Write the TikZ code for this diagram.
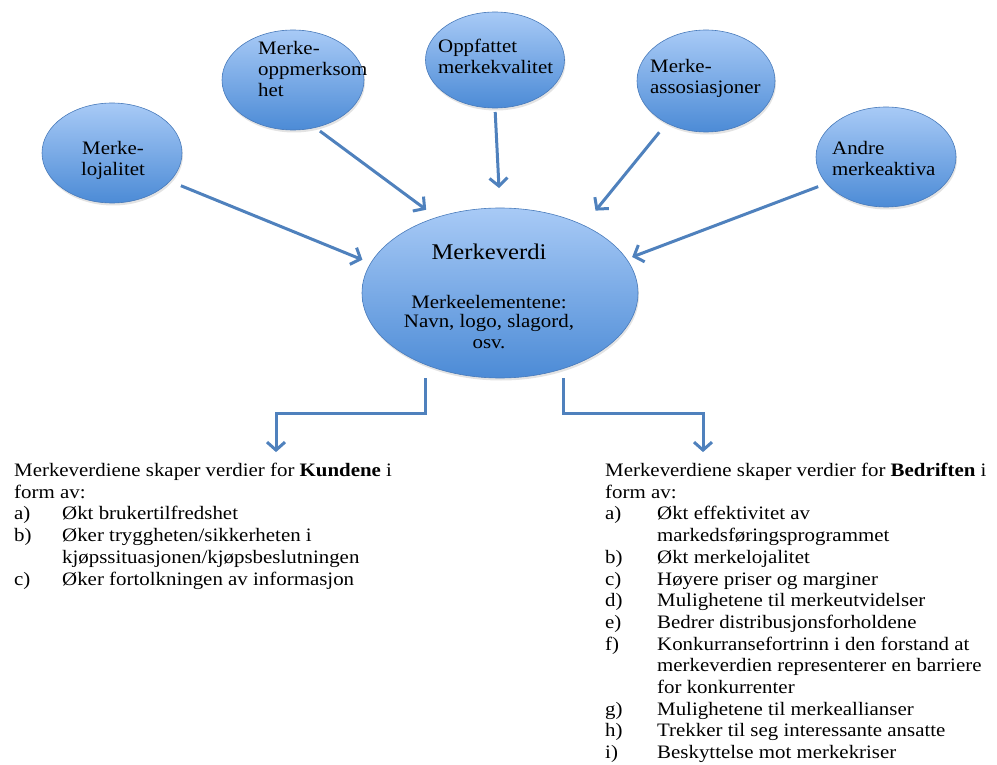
\documentclass[tikz,border=0pt]{standalone}
\usepackage{fontspec}
\setmainfont{Liberation Serif}[FakeStretch=1.1]
\usetikzlibrary{arrows.meta,shapes.geometric,shadows}
\definecolor{arrblue}{RGB}{79,129,189}
\definecolor{elltop}{RGB}{168,202,246}
\definecolor{ellbot}{RGB}{76,139,214}
\definecolor{ellline}{RGB}{72,122,186}
\begin{document}
\begin{tikzpicture}[x=1pt,y=-1pt,
  ell/.style={ellipse, draw=ellline, line width=0.6pt, top color=elltop, bottom color=ellbot,
    inner sep=0pt, outer sep=0pt,
    drop shadow={opacity=0.22, shadow xshift=1pt, shadow yshift=-2.5pt}},
  arr/.style={draw=arrblue, line width=3pt, -{Straight Barb[length=8pt,width=18pt]}},
  etext/.style={inner sep=0pt, font=\fontsize{19}{21}\selectfont},
  ltext/.style={inner sep=0pt, anchor=base west, font=\fontsize{19}{21.7}\selectfont}
]
\useasboundingbox (0,0) rectangle (997,765);

% ellipses
\node[ell, minimum width=140pt, minimum height=100pt] (loj) at (112,153) {};
\node[ell, minimum width=142pt, minimum height=100pt] (opp) at (293,80) {};
\node[ell, minimum width=139pt, minimum height=96pt] (oq) at (495,60) {};
\node[ell, minimum width=138pt, minimum height=102pt] (ass) at (706,81) {};
\node[ell, minimum width=140pt, minimum height=100pt] (andre) at (886,157) {};
\node[ell, minimum width=276pt, minimum height=170pt] (mv) at (500,293) {};

% ellipse texts
\node[etext, anchor=base] (lojt) at (113,155) {\begin{tabular}[t]{@{}c@{}}Merke-\\lojalitet\end{tabular}};
\node[etext, anchor=base west] (oppt) at (258,55) {\begin{tabular}[t]{@{}l@{}}Merke-\\oppmerksom\\het\end{tabular}};
\node[etext, anchor=base west] (oqt) at (438,53) {\begin{tabular}[t]{@{}l@{}}Oppfattet\\merkekvalitet\end{tabular}};
\node[etext, anchor=base west] (asst) at (650,73) {\begin{tabular}[t]{@{}l@{}}Merke-\\assosiasjoner\end{tabular}};
\node[etext, anchor=base west] (andret) at (832,155) {\begin{tabular}[t]{@{}l@{}}Andre\\merkeaktiva\end{tabular}};
\node[inner sep=0pt, anchor=base, font=\fontsize{22.4}{24}\selectfont] (mvt1) at (489,259) {Merkeverdi};
\node[inner sep=0pt, anchor=base, font=\fontsize{19}{20}\selectfont] (mvt2) at (489,308)
  {\begin{tabular}[t]{@{}c@{}}Merkeelementene:\\Navn, logo, slagord,\\osv.\end{tabular}};

% lists
\node[ltext] (kund) at (14,476.5) {\begin{tabular}[t]{@{}p{48pt}@{}l@{}}
\multicolumn{2}{@{}l@{}}{Merkeverdiene skaper verdier for \textbf{Kundene} i}\\
\multicolumn{2}{@{}l@{}}{form av:}\\
a) & Økt brukertilfredshet\\
b) & Øker tryggheten/sikkerheten i\\
   & kjøpssituasjonen/kjøpsbeslutningen\\
c) & Øker fortolkningen av informasjon
\end{tabular}};

\node[ltext] (bedr) at (605,476.5) {\begin{tabular}[t]{@{}p{52pt}@{}l@{}}
\multicolumn{2}{@{}l@{}}{Merkeverdiene skaper verdier for \textbf{Bedriften} i}\\
\multicolumn{2}{@{}l@{}}{form av:}\\
a) & Økt effektivitet av\\
   & markedsføringsprogrammet\\
b) & Økt merkelojalitet\\
c) & Høyere priser og marginer\\
d) & Mulighetene til merkeutvidelser\\
e) & Bedrer distribusjonsforholdene\\
f) & Konkurransefortrinn i den forstand at\\
   & merkeverdien representerer en barriere\\
   & for konkurrenter\\
g) & Mulighetene til merkeallianser\\
h) & Trekker til seg interessante ansatte\\
i) & Beskyttelse mot merkekriser
\end{tabular}};

% arrows into Merkeverdi
\draw[arr, shorten <=12pt, shorten >=9pt] (loj.-26) -- (mv.167.5);
\draw[arr, shorten <=6pt, shorten >=13pt] (opp.-65) -- (mv.130.7);
\draw[arr, shorten <=4pt, shorten >=20pt] (oq.south) -- (mv.north);
\draw[arr, shorten <=12pt, shorten >=19pt] (ass.-133) -- (mv.39.3);
\draw[arr, shorten <=9pt, shorten >=6pt] (andre.-156.5) -- (mv.15);

% arrows out of Merkeverdi
\draw[arr] ([xshift=-75pt]mv.south) -- ++(0,35) -| ([shift={(262pt,9pt)}]kund.north west);
\draw[arr] ([xshift=63pt]mv.south) -- ++(0,35) -| ([shift={(98pt,9pt)}]bedr.north west);
\end{tikzpicture}
\end{document}
